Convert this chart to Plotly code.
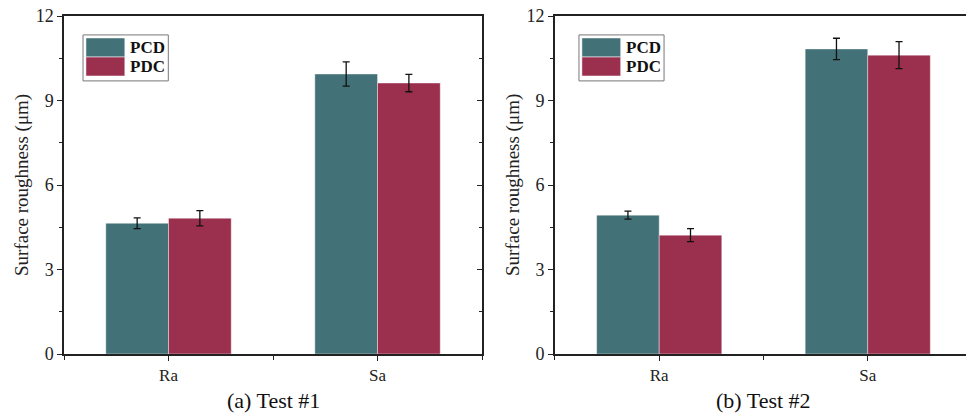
import plotly.graph_objects as go

categories = ["Ra", "Sa"]
series_names = ["PCD", "PDC"]
test1_pcd = [4.64, 9.94]
test1_pcd_err = [0.19, 0.43]
test1_pdc = [4.82, 9.62]
test1_pdc_err = [0.27, 0.31]
test2_pcd = [4.93, 10.83]
test2_pcd_err = [0.14, 0.38]
test2_pdc = [4.22, 10.61]
test2_pdc_err = [0.23, 0.48]
y_ticks = [0, 3, 6, 9, 12]
y_title = "Surface roughness (μm)"
captions = ["(a) Test #1", "(b) Test #2"]

colors = {"PCD": "#437178", "PDC": "#9B2F4E"}
FONT = "Liberation Serif"
AX = "#222222"

xpos = list(range(len(categories)))

fig = go.Figure()

panels = [
    ("x", "y", [(test1_pcd, test1_pcd_err), (test1_pdc, test1_pdc_err)]),
    ("x2", "y2", [(test2_pcd, test2_pcd_err), (test2_pdc, test2_pdc_err)]),
]
for xa, ya, data in panels:
    for name, (vals, errs) in zip(series_names, data):
        fig.add_trace(go.Bar(
            x=xpos, y=vals, name=name, xaxis=xa, yaxis=ya,
            marker=dict(color=colors[name], line=dict(color="rgba(255,255,255,0.5)", width=0.8)),
            error_y=dict(type="data", array=errs, color="#111111", thickness=1.3, width=3.5),
            offsetgroup=name, showlegend=False,
        ))

# dummy traces on right overlay axes (for inward ticks)
fig.add_trace(go.Scatter(x=[], y=[], xaxis="x", yaxis="y3", showlegend=False))
fig.add_trace(go.Scatter(x=[], y=[], xaxis="x2", yaxis="y4", showlegend=False))

common_y = dict(
    range=[0, 12], tickvals=y_ticks, ticks="outside", ticklen=5, tickwidth=1.2,
    tickcolor=AX, showline=True, linecolor=AX, linewidth=1.5, showgrid=False,
    zeroline=False, tickfont=dict(family=FONT, size=18, color="#222"), automargin=False,
    ticklabeloverflow="allow",
    minor=dict(tickvals=[1.5, 4.5, 7.5, 10.5], ticks="outside", ticklen=3, tickcolor=AX, tickwidth=1.2),
)
common_x = dict(
    range=[-0.5, len(categories) - 0.5], tickvals=xpos, ticktext=categories,
    ticks="outside", ticklen=5, tickwidth=1.2, tickcolor=AX, automargin=False,
    showline=True, linecolor=AX, linewidth=1.5, mirror=True, showgrid=False, zeroline=False,
    tickfont=dict(family=FONT, size=17, color="#222"),
    minor=dict(tickvals=[-0.5, 0.5, 1.5], ticks="outside", ticklen=4, tickcolor=AX, tickwidth=1.2),
)
right_y = dict(
    range=[0, 12], tickvals=y_ticks, ticks="inside", ticklen=5, tickwidth=1.2, tickcolor=AX,
    showticklabels=False, side="right", showline=True, linecolor=AX, linewidth=1.5,
    showgrid=False, zeroline=False, automargin=False,
    minor=dict(tickvals=[1.5, 4.5, 7.5, 10.5], ticks="inside", ticklen=3, tickcolor=AX, tickwidth=1.2),
)

d1 = [0, 0.4604]
d2 = [0.5407, 1.0]
fig.update_layout(
    width=966, height=411,
    margin=dict(l=56, r=2, t=8, b=65),
    paper_bgcolor="white", plot_bgcolor="white",
    barmode="group", bargap=0.4, bargroupgap=0,
    xaxis=dict(domain=d1, anchor="y", **common_x),
    yaxis=dict(domain=[0, 1], anchor="x", **common_y),
    xaxis2=dict(domain=d2, anchor="y2", **common_x),
    yaxis2=dict(domain=[0, 1], anchor="x2", **common_y),
    yaxis3=dict(overlaying="y", anchor="x", **right_y),
    yaxis4=dict(overlaying="y2", anchor="x2", **right_y),
    font=dict(family=FONT),
)

# y-axis titles
for xr in ["x domain", "x2 domain"]:
    fig.add_annotation(xref=xr, yref="paper", x=0, y=0.5, xshift=-42, text=y_title,
                       textangle=-90, showarrow=False, xanchor="center", yanchor="middle",
                       font=dict(family=FONT, size=19, color="#222"))

# custom legends (one per panel), in axis-domain coordinates
legend_boxes = [("x domain", "y domain", 0.0455), ("x2 domain", "y2 domain", 0.0576)]
for xr, yr, x0 in legend_boxes:
    fig.add_shape(type="rect", xref=xr, yref=yr, x0=x0, x1=x0 + 0.204, y0=0.808, y1=0.944,
                  line=dict(color="#777777", width=1), fillcolor="white", layer="above")
    for i, name in enumerate(series_names):
        ytop = 0.935 - i * 0.0565
        fig.add_shape(type="rect", xref=xr, yref=yr, x0=x0 + 0.007, x1=x0 + 0.100,
                      y0=ytop - 0.056, y1=ytop, line=dict(color="white", width=0.5),
                      fillcolor=colors[name], layer="above")
        fig.add_annotation(xref=xr, yref=yr, x=x0 + 0.108, y=ytop - 0.028, text=f"<b>{name}</b>",
                           showarrow=False, xanchor="left", yanchor="middle",
                           font=dict(family=FONT, size=17, color="#111"))

# captions
for xr, cap in zip(["x domain", "x2 domain"], captions):
    fig.add_annotation(xref=xr, yref="paper", x=0.5, y=-0.139, text=cap, showarrow=False,
                       xanchor="center", yanchor="middle", font=dict(family=FONT, size=22, color="#111"))

fig.write_html("out.html")
